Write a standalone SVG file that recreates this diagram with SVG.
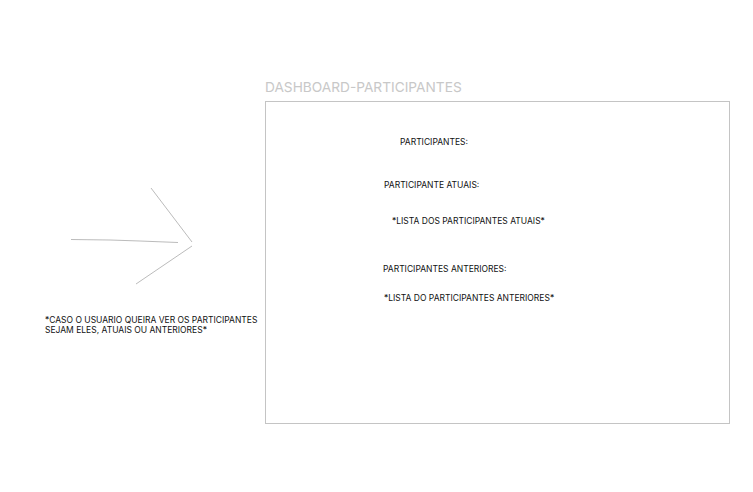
<svg xmlns="http://www.w3.org/2000/svg" width="753" height="492" viewBox="0 0 753 492">
<style>
.t{font-family:Inter,"Liberation Sans",sans-serif;font-size:8.5px;fill:#111}
.title{font-family:Inter,"Liberation Sans",sans-serif;font-size:13.7px;fill:#c8c8c8}
.ln{stroke:#aaa;stroke-width:0.8;fill:none}
</style>
<rect width="753" height="492" fill="#fff"/>
<g id="dashboard">
<text class="title" x="265" y="92">DASHBOARD-PARTICIPANTES</text>
<rect x="265.5" y="101.5" width="464" height="322" fill="#fff" stroke="#c4c4c4" stroke-width="1"/>
<text class="t" x="400" y="144.5">PARTICIPANTES:</text>
<text class="t" x="384" y="187.5">PARTICIPANTE ATUAIS:</text>
<text class="t" x="392" y="223.5">*LISTA DOS PARTICIPANTES ATUAIS*</text>
<text class="t" x="383" y="271.5">PARTICIPANTES ANTERIORES:</text>
<text class="t" x="384" y="300.5">*LISTA DO PARTICIPANTES ANTERIORES*</text>
</g>
<g id="note">
<text class="t" x="45" y="322.5">*CASO O USUARIO QUEIRA VER OS PARTICIPANTES</text>
<text class="t" x="45" y="332.5">SEJAM ELES, ATUAIS OU ANTERIORES*</text>
</g>
<g id="connectors">
<path class="ln" d="M71 239.5 L110 240 L140 241 L178 242.5"/>
<path class="ln" d="M151 188 L192 242"/>
<path class="ln" d="M192 246 L136 284"/>
</g>
</svg>
